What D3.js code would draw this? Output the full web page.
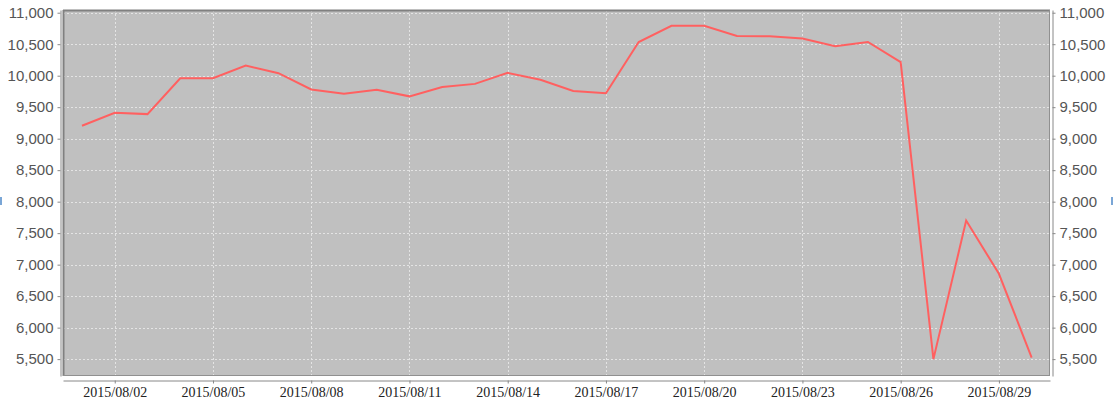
<!DOCTYPE html>
<html>
<head>
<meta charset="utf-8">
<script src="https://cdn.jsdelivr.net/npm/d3@7"></script>
<style>
  html, body { margin: 0; padding: 0; background: #ffffff; }
  svg { display: block; }
</style>
</head>
<body>
<svg id="chart" width="1113" height="403"></svg>
<script>
// ---- data ----
const dates = [
  "2015/08/01","2015/08/02","2015/08/03","2015/08/04","2015/08/05","2015/08/06",
  "2015/08/07","2015/08/08","2015/08/09","2015/08/10","2015/08/11","2015/08/12",
  "2015/08/13","2015/08/14","2015/08/15","2015/08/16","2015/08/17","2015/08/18",
  "2015/08/19","2015/08/20","2015/08/21","2015/08/22","2015/08/23","2015/08/24",
  "2015/08/25","2015/08/26","2015/08/27","2015/08/28","2015/08/29","2015/08/30"
];
const values = [
  9205, 9410, 9390, 9960, 9960, 10160,
  10040, 9782, 9712, 9778, 9672, 9820,
  9870, 10045, 9935, 9757, 9720, 10535,
  10792, 10792, 10630, 10627, 10590, 10468,
  10535, 10215, 5500, 7700, 6855, 5525
];
const xTickLabels = ["2015/08/02","2015/08/05","2015/08/08","2015/08/11","2015/08/14",
                     "2015/08/17","2015/08/20","2015/08/23","2015/08/26","2015/08/29"];
const yTickValues = [5500, 6000, 6500, 7000, 7500, 8000, 8500, 9000, 9500, 10000, 10500, 11000];

// ---- layout ----
const plot = { left: 63, right: 1050, top: 10, bottom: 376 };
const svg = d3.select("#chart");

const x = d3.scaleLinear().domain([-0.58, dates.length - 1 + 0.56]).range([plot.left, plot.right]);
const y = d3.scaleLinear().domain([5232, 11043]).range([plot.bottom, plot.top]);

const xTickIdx = xTickLabels.map(l => dates.indexOf(l));

// plot background
svg.append("rect")
  .attr("x", plot.left).attr("y", plot.top)
  .attr("width", plot.right - plot.left).attr("height", plot.bottom - plot.top)
  .attr("fill", "#c0c0c0");

// grid
const grid = svg.append("g").attr("stroke", "#e4e4e4").attr("stroke-width", 1)
  .attr("stroke-dasharray", "2,2").attr("shape-rendering", "crispEdges");
grid.selectAll("line.h").data(yTickValues).join("line").attr("class", "h")
  .attr("x1", plot.left).attr("x2", plot.right)
  .attr("y1", d => Math.round(y(d)) + 0.5).attr("y2", d => Math.round(y(d)) + 0.5);
grid.selectAll("line.v").data(xTickIdx).join("line").attr("class", "v")
  .attr("y1", plot.top).attr("y2", plot.bottom)
  .attr("x1", d => Math.round(x(d)) + 0.5).attr("x2", d => Math.round(x(d)) + 0.5);

// plot border
svg.append("line").attr("x1", plot.left + 0.5).attr("x2", plot.left + 0.5)
  .attr("y1", plot.top).attr("y2", plot.bottom).attr("stroke", "#808080").attr("stroke-width", 2);
svg.append("line").attr("x1", plot.left).attr("x2", plot.right)
  .attr("y1", plot.top + 0.5).attr("y2", plot.top + 0.5).attr("stroke", "#808080").attr("stroke-width", 2);
svg.append("line").attr("x1", plot.right - 0.5).attr("x2", plot.right - 0.5)
  .attr("y1", plot.top).attr("y2", plot.bottom).attr("stroke", "#909090").attr("stroke-width", 1);
svg.append("line").attr("x1", plot.left).attr("x2", plot.right)
  .attr("y1", plot.bottom - 0.5).attr("y2", plot.bottom - 0.5).attr("stroke", "#909090").attr("stroke-width", 1);

// line
const line = d3.line().x((d, i) => x(i)).y(d => y(d));
svg.append("path").datum(values)
  .attr("d", line).attr("fill", "none")
  .attr("stroke", "#ff6060").attr("stroke-width", 2).attr("stroke-linejoin", "miter");

// axes
const fmt = d3.format(",");
const yLeft = svg.append("g").attr("transform", "translate(60.5,0)")
  .call(d3.axisLeft(y).tickValues(yTickValues).tickFormat(fmt).tickSize(3).tickSizeOuter(0).tickPadding(4));
const yRight = svg.append("g").attr("transform", "translate(1052.5,0)")
  .call(d3.axisRight(y).tickValues(yTickValues).tickFormat(fmt).tickSize(3).tickSizeOuter(0).tickPadding(4));
[yLeft, yRight].forEach(g => {
  g.select(".domain").attr("stroke", "#888888");
  g.selectAll(".tick line").attr("stroke", "#888888");
  g.selectAll(".tick text").attr("fill", "#555555")
    .style("font-family", "'Liberation Sans', Arial, sans-serif").style("font-size", "15px");
});

const xAxis = svg.append("g").attr("transform", "translate(0,380.5)")
  .call(d3.axisBottom(x).tickValues(xTickIdx).tickFormat((d, i) => xTickLabels[i]).tickSize(3).tickSizeOuter(0).tickPadding(4));
xAxis.select(".domain").attr("stroke", "#888888");
xAxis.selectAll(".tick line").attr("stroke", "#888888");
xAxis.selectAll(".tick text").attr("fill", "#222222")
  .style("font-family", "'Liberation Serif', 'Times New Roman', serif").style("font-size", "14px");

// clipped axis-title markers at the edges
svg.append("rect").attr("x", 0).attr("y", 197).attr("width", 2).attr("height", 8).attr("fill", "#7aa6d6");
svg.append("rect").attr("x", 1111).attr("y", 197).attr("width", 2).attr("height", 8).attr("fill", "#7aa6d6");
</script>
</body>
</html>
